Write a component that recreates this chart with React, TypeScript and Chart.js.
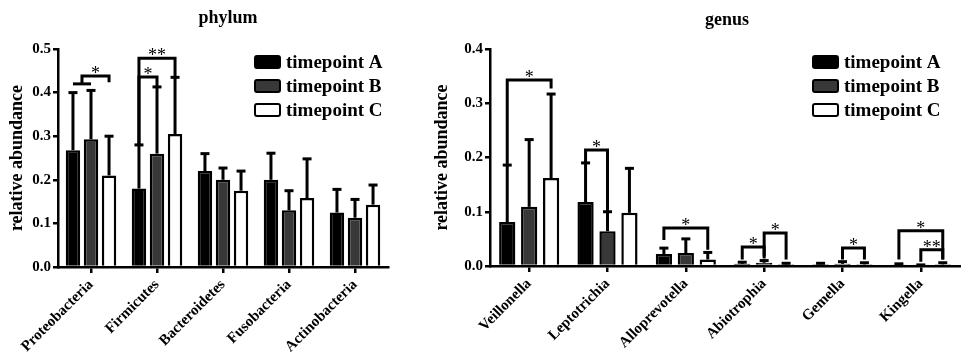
import React, { useEffect, useRef } from "react";
import { Chart, registerables } from "chart.js";
Chart.register(...registerables);

const SERIES = ["timepoint A", "timepoint B", "timepoint C"];
const FILLS = ["#000000", "#383838", "#ffffff"];

// phylum panel
const phylumCategories = ["Proteobacteria", "Firmicutes", "Bacteroidetes", "Fusobacteria", "Actinobacteria"];
const phylumA = [0.268, 0.18, 0.22, 0.2, 0.125];
const phylumB = [0.293, 0.26, 0.2, 0.13, 0.113];
const phylumC = [0.21, 0.305, 0.175, 0.158, 0.143];
const phylumSdA = [0.132, 0.1, 0.04, 0.061, 0.053];
const phylumSdB = [0.112, 0.153, 0.027, 0.045, 0.042];
const phylumSdC = [0.09, 0.13, 0.045, 0.09, 0.045];
const phylumTicks = [0, 0.1, 0.2, 0.3, 0.4, 0.5];
// [category, fromBar, toBar, lineValue, leftEndValue, rightEndValue, label]
const phylumBrackets: [number, number, number, number, number, number, string][] = [
  [0, 0, 1, 0.42, 0.42, 0.42, ""],
  [0, 0.5, 2, 0.438, 0.42, 0.424, "*"],
  [1, 0, 2, 0.479, 0.28, 0.436, "**"],
  [1, 0, 1, 0.436, 0.28, 0.413, "*"],
];

// genus panel
const genusCategories = ["Veillonella", "Leptotrichia", "Alloprevotella", "Abiotrophia", "Gemella", "Kingella"];
const genusA = [0.081, 0.118, 0.022, 0.004, 0.003, 0.002];
const genusB = [0.109, 0.064, 0.024, 0.006, 0.004, 0.001];
const genusC = [0.162, 0.098, 0.012, 0.003, 0.003, 0.003];
const genusSdA = [0.105, 0.072, 0.011, 0.003, 0.002, 0.002];
const genusSdB = [0.124, 0.036, 0.026, 0.004, 0.004, 0.001];
const genusSdC = [0.155, 0.082, 0.013, 0.002, 0.003, 0.003];
const genusTicks = [0, 0.1, 0.2, 0.3, 0.4];
const genusBrackets: [number, number, number, number, number, number, string][] = [
  [0, 0, 2, 0.343, 0.186, 0.327, "*"],
  [1, 0, 1, 0.214, 0.19, 0.1, "*"],
  [2, 0, 2, 0.07, 0.048, 0.03, "*"],
  [3, 0, 1, 0.035, 0.012, 0.014, "*"],
  [3, 1, 2, 0.061, 0.018, 0.012, "*"],
  [4, 1, 2, 0.033, 0.012, 0.012, "*"],
  [5, 0, 2, 0.065, 0.012, 0.012, "*"],
  [5, 1, 2, 0.03, 0.008, 0.012, "**"],
];

const SERIF = "'Liberation Serif', 'Times New Roman', serif";

type Panel = {
  title: string;
  titleX: number;
  titleY: number;
  legendX: number;
  categories: string[];
  values: number[][];
  sds: number[][];
  ticks: number[];
  brackets: [number, number, number, number, number, number, string][];
  padRight: number;
  yWidth: number;
  yTitlePad: number;
  catPct: number;
  barPct: number;
};

function makeOverlay(p: Panel) {
  return {
    id: "overlay",
    afterDatasetsDraw(chart: any) {
      const ctx = chart.ctx;
      const y = chart.scales.y;
      ctx.save();
      ctx.strokeStyle = "#000";
      ctx.lineWidth = 3;
      ctx.lineCap = "butt";
      // error bars (upper only)
      p.values.forEach((vals, i) => {
        const meta = chart.getDatasetMeta(i);
        meta.data.forEach((bar: any, j: number) => {
          const top = y.getPixelForValue(vals[j] + p.sds[i][j]);
          ctx.beginPath();
          ctx.moveTo(bar.x, bar.y);
          ctx.lineTo(bar.x, top);
          ctx.stroke();
          ctx.beginPath();
          ctx.moveTo(bar.x - 4.5, top);
          ctx.lineTo(bar.x + 4.5, top);
          ctx.stroke();
        });
      });
      // significance brackets
      const barX = (cat: number, idx: number) => {
        const lo = Math.floor(idx);
        const hi = Math.ceil(idx);
        const xl = chart.getDatasetMeta(lo).data[cat].x;
        const xh = chart.getDatasetMeta(hi).data[cat].x;
        return xl + (xh - xl) * (idx - lo);
      };
      p.brackets.forEach(([cat, from, to, v, lEnd, rEnd, label]) => {
        const x1 = barX(cat, from);
        const x2 = barX(cat, to);
        const yy = y.getPixelForValue(v);
        ctx.beginPath();
        ctx.moveTo(x1, y.getPixelForValue(lEnd));
        ctx.lineTo(x1, yy);
        ctx.lineTo(x2, yy);
        ctx.lineTo(x2, y.getPixelForValue(rEnd));
        ctx.stroke();
        if (label) {
          ctx.fillStyle = "#000";
          ctx.font = `18px ${SERIF}`;
          ctx.textAlign = "center";
          ctx.textBaseline = "alphabetic";
          ctx.fillText(label, (x1 + x2) / 2, yy + 3);
        }
      });
      ctx.restore();
    },
    afterDraw(chart: any) {
      const ctx = chart.ctx;
      ctx.save();
      ctx.fillStyle = "#000";
      ctx.font = `bold 18px ${SERIF}`;
      ctx.textAlign = "center";
      ctx.textBaseline = "middle";
      ctx.fillText(p.title, p.titleX, p.titleY);
      // legend
      SERIES.forEach((s, i) => {
        const cy = 62 + i * 24;
        const bx = p.legendX;
        ctx.beginPath();
        const w = 25, h = 12, r = 2;
        ctx.moveTo(bx + r, cy - h / 2);
        ctx.arcTo(bx + w, cy - h / 2, bx + w, cy + h / 2, r);
        ctx.arcTo(bx + w, cy + h / 2, bx, cy + h / 2, r);
        ctx.arcTo(bx, cy + h / 2, bx, cy - h / 2, r);
        ctx.arcTo(bx, cy - h / 2, bx + w, cy - h / 2, r);
        ctx.closePath();
        ctx.fillStyle = FILLS[i];
        ctx.fill();
        ctx.lineWidth = 2;
        ctx.strokeStyle = "#000";
        ctx.stroke();
        ctx.fillStyle = "#000";
        ctx.font = `bold 19px ${SERIF}`;
        ctx.textAlign = "left";
        ctx.textBaseline = "middle";
        ctx.fillText(s, bx + 31, cy + 1);
      });
      ctx.restore();
    },
  };
}

function BarPanel({ panel, width, left }: { panel: Panel; width: number; left: number }) {
  const ref = useRef<HTMLCanvasElement>(null);
  useEffect(() => {
    if (!ref.current) return;
    const chart = new Chart(ref.current, {
      type: "bar",
      data: {
        labels: panel.categories,
        datasets: panel.values.map((vals, i) => ({
          label: SERIES[i],
          data: vals,
          backgroundColor: FILLS[i],
          borderColor: "#000",
          borderWidth: 2.5,
          categoryPercentage: panel.catPct,
          barPercentage: panel.barPct,
        })),
      },
      options: {
        animation: false,
        responsive: false,
        maintainAspectRatio: false,
        layout: { padding: { top: 49, right: panel.padRight, left: 0, bottom: 0 } },
        plugins: { legend: { display: false }, tooltip: { enabled: false }, title: { display: false } },
        scales: {
          x: {
            grid: { display: true, drawOnChartArea: false, offset: false, color: "#000", lineWidth: 2.5, tickLength: 6 },
            border: { display: true, color: "#000", width: 2.5 },
            ticks: {
              color: "#000",
              font: { family: SERIF, size: 15, weight: "bold" },
              minRotation: 45,
              maxRotation: 45,
              autoSkip: false,
              padding: 3,
            },
            afterFit: (s: any) => {
              s.height = 360 - (panel.ticks.length === 6 ? 267 : 266);
            },
          },
          y: {
            min: 0,
            max: panel.ticks[panel.ticks.length - 1],
            afterBuildTicks: (s: any) => {
              s.ticks = panel.ticks.map((v) => ({ value: v }));
            },
            grid: { display: true, drawOnChartArea: false, color: "#000", lineWidth: 2.5, tickLength: 5 },
            border: { display: true, color: "#000", width: 2.5 },
            ticks: {
              color: "#000",
              font: { family: SERIF, size: 15, weight: "bold" },
              padding: 2,
              callback: (v: any) => Number(v).toFixed(1),
            },
            title: {
              display: true,
              text: "relative abundance",
              color: "#000",
              font: { family: SERIF, size: 18, weight: "bold" },
              padding: { top: panel.yTitlePad, bottom: 0 },
            },
            afterFit: (s: any) => {
              s.width = panel.yWidth;
            },
          },
        },
      } as any,
      plugins: [makeOverlay(panel)],
    });
    return () => chart.destroy();
  }, [panel]);
  return (
    <canvas
      ref={ref}
      width={width}
      height={360}
      style={{ position: "absolute", left, top: 0, width, height: 360 }}
    />
  );
}

const phylumPanel: Panel = {
  title: "phylum",
  titleX: 228,
  titleY: 18,
  legendX: 255,
  categories: phylumCategories,
  values: [phylumA, phylumB, phylumC],
  sds: [phylumSdA, phylumSdB, phylumSdC],
  ticks: phylumTicks,
  brackets: phylumBrackets,
  padRight: 42,
  yWidth: 58,
  yTitlePad: 7,
  catPct: 0.82,
  barPct: 0.8,
};

const genusPanel: Panel = {
  title: "genus",
  titleX: 297,
  titleY: 20,
  legendX: 383,
  categories: genusCategories,
  values: [genusA, genusB, genusC],
  sds: [genusSdA, genusSdB, genusSdC],
  ticks: genusTicks,
  brackets: genusBrackets,
  padRight: 1,
  yWidth: 60,
  yTitlePad: 2,
  catPct: 0.84,
  barPct: 0.74,
};

export default function App() {
  return (
    <div style={{ position: "absolute", left: 0, top: 0, width: 961, height: 360, background: "#fff" }}>
      <BarPanel panel={phylumPanel} width={430} left={0} />
      <BarPanel panel={genusPanel} width={531} left={430} />
    </div>
  );
}
